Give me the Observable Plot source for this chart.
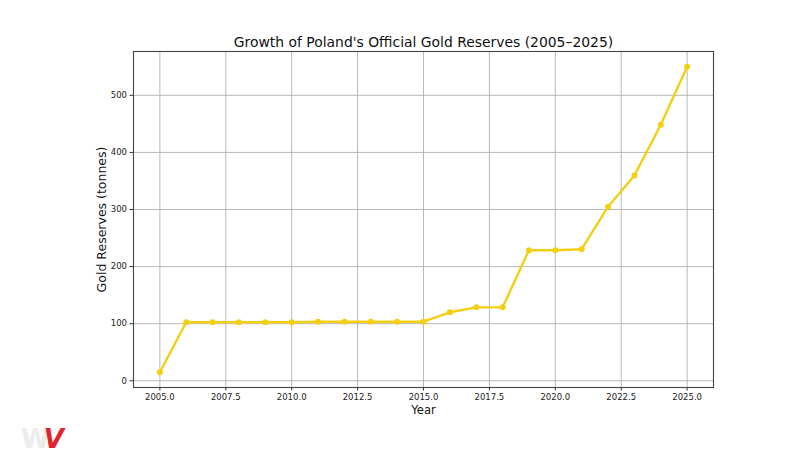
<!DOCTYPE html>
<html>
<head>
<meta charset="utf-8">
<script src="https://cdn.jsdelivr.net/npm/d3@7"></script>
<script src="https://cdn.jsdelivr.net/npm/@observablehq/plot@0.6"></script>
<style>
  html, body { margin: 0; padding: 0; background: #fff; }
  #wrap { position: relative; width: 808px; height: 454px; }
  #logo { position: absolute; left: 21px; top: 424px; font-family: "DejaVu Sans", sans-serif; font-weight: bold; font-size: 26px; letter-spacing: -6px; }
  #logo .w { color: #ececec; }
  #logo .v { color: #e3232b; font-style: italic; }
</style>
</head>
<body>
<div id="wrap"><div id="chart"></div><div id="logo"><span class="w">W</span><span class="v">V</span></div></div>
<script>
const years = [2005, 2006, 2007, 2008, 2009, 2010, 2011, 2012, 2013, 2014, 2015, 2016, 2017, 2018, 2019, 2020, 2021, 2022, 2023, 2024, 2025];
const reserves = [15, 102.5, 102.5, 102.5, 102.5, 102.5, 103.5, 103.5, 103.5, 103.5, 103.5, 120, 128.6, 128.6, 228.7, 228.7, 230.5, 305, 359.5, 448.5, 550];
const xTicks = [2005, 2007.5, 2010, 2012.5, 2015, 2017.5, 2020, 2022.5, 2025];
const yTicks = [0, 100, 200, 300, 400, 500];
const title = "Growth of Poland's Official Gold Reserves (2005–2025)";
const xLabel = "Year";
const yLabel = "Gold Reserves (tonnes)";

const data = years.map((y, i) => ({year: y, value: reserves[i]}));
const ymin = d3.min(reserves), ymax = d3.max(reserves);
const ypad = (ymax - ymin) * 0.05;
const xpad = (d3.max(years) - d3.min(years)) * 0.05;

const chart = Plot.plot({
  width: 808,
  height: 454,
  marginLeft: 133,
  marginRight: 95,
  marginTop: 51,
  marginBottom: 67,
  style: {fontFamily: "DejaVu Sans, sans-serif", fontSize: "8.5px", color: "#222", background: "#fff"},
  x: {domain: [d3.min(years) - xpad, d3.max(years) + xpad], ticks: xTicks, tickFormat: d => d.toFixed(1), tickSize: 3.5, tickPadding: 3, label: null},
  y: {domain: [ymin - ypad, ymax + ypad], ticks: yTicks, tickFormat: d => String(d), tickSize: 3.5, tickPadding: 3, label: null},
  marks: [
    Plot.gridX(xTicks, {stroke: "#b0b0b0", strokeOpacity: 1, strokeWidth: 0.9}),
    Plot.gridY(yTicks, {stroke: "#b0b0b0", strokeOpacity: 1, strokeWidth: 0.9}),
    Plot.axisX({ticks: xTicks, tickFormat: d => d.toFixed(1), tickSize: 3.5, tickPadding: 3, label: null, stroke: "#333"}),
    Plot.axisY({ticks: yTicks, tickSize: 3.5, tickPadding: 3, label: null, stroke: "#333"}),
    Plot.line(data, {x: "year", y: "value", stroke: "#f3cf14", strokeWidth: 2.4}),
    Plot.dot(data, {x: "year", y: "value", fill: "#f3cf14", r: 3}),
    Plot.frame({stroke: "#444", strokeWidth: 1.1}),
    Plot.text([title], {frameAnchor: "top", dy: -5, fontSize: 13.9, fill: "#111", lineAnchor: "bottom"}),
    Plot.text([xLabel], {frameAnchor: "bottom", dy: 23, fontSize: 11.5, fill: "#111", lineAnchor: "middle"}),
    Plot.text([yLabel], {frameAnchor: "left", dx: -32, rotate: -90, textAnchor: "middle", fontSize: 12.5, fill: "#111"})
  ]
});
document.getElementById("chart").appendChild(chart);
</script>
</body>
</html>
